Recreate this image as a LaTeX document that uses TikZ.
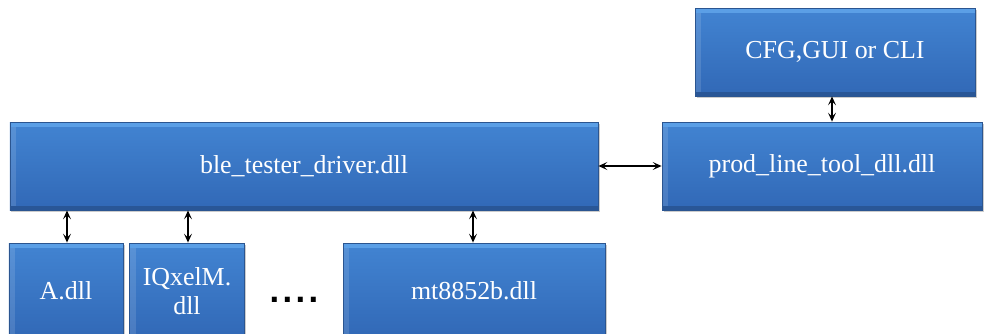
\documentclass[tikz,border=0pt]{standalone}
\usepackage{fontspec}
\setmainfont{Liberation Serif}
\newfontfamily\dotfont{DejaVu Sans}
\usetikzlibrary{arrows.meta,shadows}
\definecolor{boxtop}{HTML}{4284D2}
\definecolor{boxbot}{HTML}{3168B6}
\definecolor{boxedge}{HTML}{2B5590}
\definecolor{boxhi}{HTML}{62A6EC}
\definecolor{boxlo}{HTML}{27528E}
\tikzset{
  blk/.style={draw=boxedge, line width=0.8bp, top color=boxtop, bottom color=boxbot,
    text=white, inner sep=0pt,
    font=\fontsize{26}{29}\selectfont, align=center,
    drop shadow={shadow xshift=1.5bp, shadow yshift=-2bp, opacity=0.4},
    path picture={
      \fill[boxhi, opacity=0.8] (path picture bounding box.north west) rectangle ([yshift=-5bp]path picture bounding box.north east);
      \fill[boxlo, opacity=0.8] (path picture bounding box.south west) rectangle ([yshift=4bp]path picture bounding box.south east);
      \fill[white, opacity=0.12] ([yshift=-5bp]path picture bounding box.north west) rectangle ([xshift=6bp,yshift=4bp]path picture bounding box.south west);
    }},
  link/.style={line width=1.4bp, {Stealth[length=9bp,width=8bp,inset=4bp]}-{Stealth[length=9bp,width=8bp,inset=4bp]}}
}
\begin{document}
\begin{tikzpicture}[x=1bp,y=-1bp]
\useasboundingbox (0,0) rectangle (989,333);
\begin{scope}
\clip (0,0) rectangle (989,333);
\node[blk, minimum width=280bp, minimum height=88bp] (cfg) at (835,52) {CFG,GUI or CLI};
\node[blk, minimum width=320bp, minimum height=88bp] (prod) at (822,166) {prod\_line\_tool\_dll.dll};
\node[blk, minimum width=588bp, minimum height=88bp] (ble) at (304,166) {ble\_tester\_driver.dll};
\node[blk, minimum width=114bp, minimum height=96bp] (a) at (66,291) {A.dll};
\node[blk, minimum width=115bp, minimum height=96bp] (iq) at (187,291) {IQxelM.\\dll};
\node[blk, minimum width=262bp, minimum height=96bp] (mt) at (474,291) {mt8852b.dll};
\end{scope}
\node[font=\dotfont\fontsize{28}{28}\selectfont\bfseries, inner sep=0pt, anchor=base] (dots) at (294,302) {.\kern2.4bp.\kern2.4bp.\kern2.4bp.};
\coordinate (aT) at (67,243);
\coordinate (iqT) at (188,243);
\coordinate (mtT) at (473,243);
\draw[link] (a.north -| aT) -- (ble.south -| aT);
\draw[link] (iq.north -| iqT) -- (ble.south -| iqT);
\draw[link] (mt.north -| mtT) -- (ble.south -| mtT);
\draw[link] (ble.east) -- (prod.west);
\coordinate (cx) at (832,0);
\draw[link] (cfg.south -| cx) -- (prod.north -| cx);
\end{tikzpicture}
\end{document}
